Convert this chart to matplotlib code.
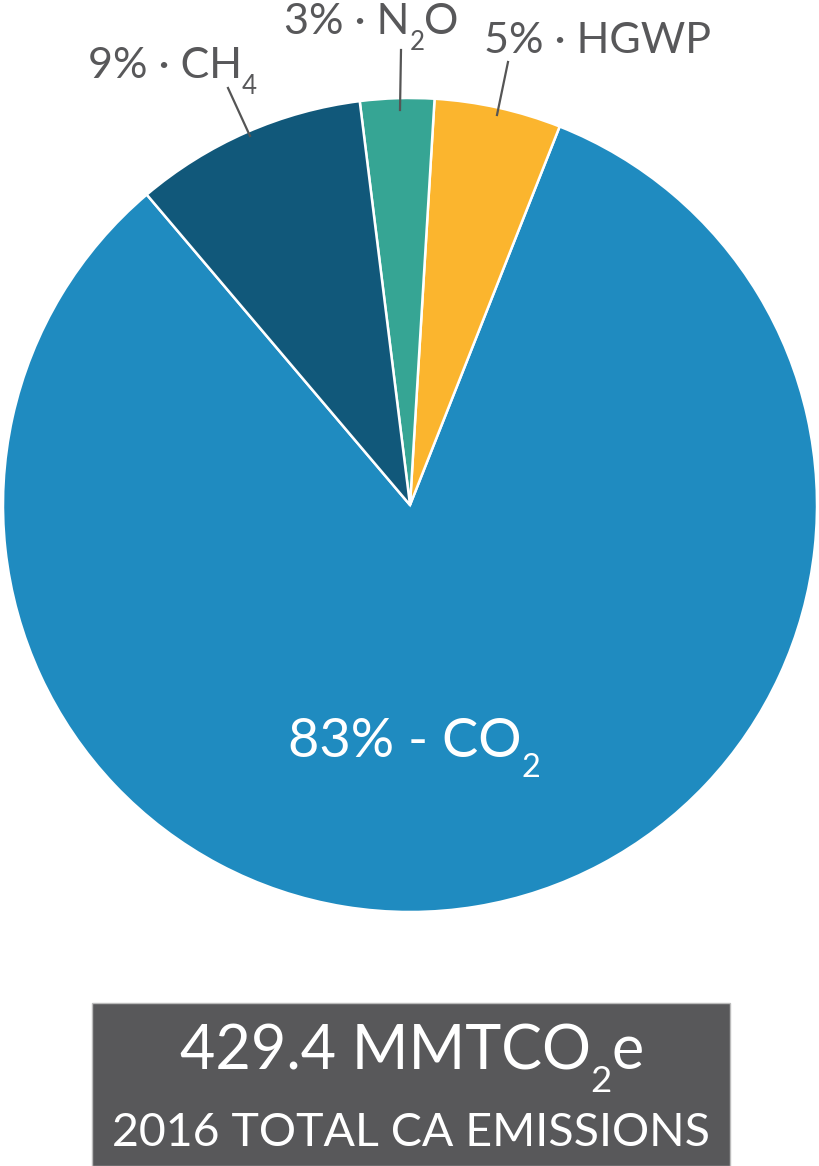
import matplotlib
matplotlib.use("Agg")
import matplotlib.pyplot as plt
from matplotlib.patches import Rectangle
from matplotlib.transforms import IdentityTransform

plt.rcParams['font.family'] = ['Lato', 'DejaVu Sans']

# data (MMTCO2e)
gases = ["CO_2", "HGWP", "N_2O", "CH_4"]
valores = [355.6, 21.6, 12.6, 39.6]
porcentajes = [83, 5, 3, 9]
colores = ["#1f8bc0", "#fbb52e", "#36a594", "#11587a"]
total = "429.4"
anio = "2016"

W, H = 820, 1166
fig = plt.figure(figsize=(W / 100, H / 100), dpi=100)
renderer = fig.canvas.get_renderer()

def fx(x):
  return x / W

def fy(y):
  return 1 - y / H

def texto_sub(x, y, s, size, color, ha="left"):
  # "_" marca que el siguiente caracter va como subindice
  partes = s.split("_")
  piezas = [(partes[0], False)]
  for p in partes[1:]:
    piezas.append((p[0], True))
    if p[1:]:
      piezas.append((p[1:], False))
  px = size * 100 / 72
  objs = []
  ancho = 0
  for txt, sub in piezas:
    t = fig.text(0, 0, txt, fontsize=size * 0.6 if sub else size, color=color,
                 ha="left", va="baseline", transform=IdentityTransform())
    w = t.get_window_extent(renderer).width
    objs.append((t, sub, w))
    ancho += w
  x0 = x - ancho / 2 if ha == "center" else x
  yb = H - y
  for t, sub, w in objs:
    t.set_position((x0, yb - px * 0.37 if sub else yb))
    x0 += w

# pie: center (410,505), radius ~407
r = 407
ax = fig.add_axes([fx(410 - r), fy(505 + r), 2 * r / W, 2 * r / H])
ax.pie(valores, colors=colores, startangle=130.3, counterclock=True,
       wedgeprops=dict(edgecolor="white", linewidth=1.8))
ax.set_xlim(-1, 1)
ax.set_ylim(-1, 1)
ax.set_aspect("equal")
ax.axis("off")

gris = "#58585a"
# etiquetas de afuera
texto_sub(88, 78, "%d%% · %s" % (porcentajes[3], gases[3]), 31, gris)
texto_sub(284, 34, "%d%% · %s" % (porcentajes[2], gases[2]), 31, gris)
texto_sub(484, 53, "%d%% · %s" % (porcentajes[1], gases[1]), 31, gris)

# lineas guia
lineas = [((228, 88), (250, 136)), ((401, 50), (400, 110)), ((508, 62), (497, 115))]
for (x0, y0), (x1, y1) in lineas:
  fig.add_artist(plt.Line2D([fx(x0), fx(x1)], [fy(y0), fy(y1)], color="#555555",
                            linewidth=1.6, transform=fig.transFigure))

texto_sub(414, 757, "%d%% - %s" % (porcentajes[0], gases[0]), 39, "white", ha="center")

# caja de abajo
fig.add_artist(Rectangle((fx(92), fy(1166)), (730 - 92) / W, (1166 - 1003) / H,
                         facecolor=gris, edgecolor="#bbbbbb", linewidth=1,
                         transform=fig.transFigure))
texto_sub(412, 1069, total + " MMTCO_2e", 44, "white", ha="center")
texto_sub(411, 1146, anio + " TOTAL CA EMISSIONS", 33.5, "white", ha="center")

fig.savefig("out.png", dpi=100)
